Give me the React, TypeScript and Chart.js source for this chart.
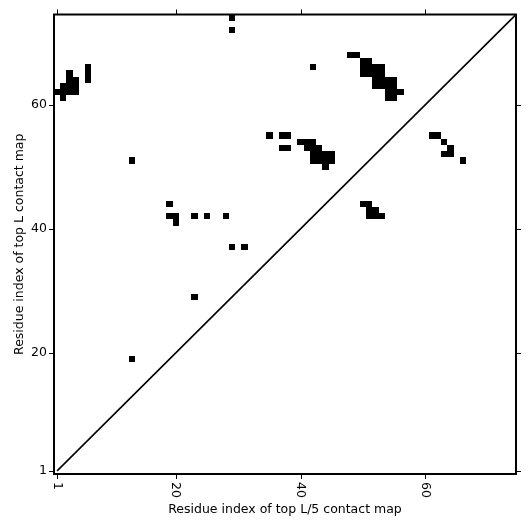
import { useEffect, useRef } from "react";
import { Chart, registerables } from "chart.js";

Chart.register(...registerables);

const AXIS_MIN = 0.5;
const AXIS_MAX = 74.5;
const tickValues = [1, 20, 40, 60];
const tickLabels = ["1", "20", "40", "60"];
const xTitle = "Residue index of top L/5 contact map";
const yTitle = "Residue index of top L contact map";

// contact cells (residue i, residue j)
const contactX = [
  1, 2, 2, 2, 3, 3, 3, 3, 4, 4, 4, 6, 6, 6,
  13, 13,
  19, 19, 20, 20, 23, 25, 28, 29, 31, 23,
  29, 29,
  35, 37, 38, 37, 38,
  40, 41, 42, 41, 42, 43, 42, 43, 44, 45, 42, 43, 44, 45, 44,
  42, 48, 49,
  50, 51, 50, 51, 52, 53, 50, 51, 52, 53, 52, 53, 52, 53, 54, 55, 54, 55, 54, 55, 54, 55, 56,
  50, 51, 51, 52, 51, 52, 53,
  61, 62, 63, 64, 64, 63, 66,
];
const contactY = [
  62, 62, 61, 63, 65, 64, 63, 62, 64, 63, 62, 66, 65, 64,
  51, 19,
  44, 42, 42, 41, 42, 42, 42, 37, 37, 29,
  74, 72,
  55, 55, 55, 53, 53,
  54, 54, 54, 53, 53, 53, 52, 52, 52, 52, 51, 51, 51, 51, 50,
  66, 68, 68,
  67, 67, 66, 66, 66, 66, 65, 65, 65, 65, 64, 64, 63, 63, 64, 64, 63, 63, 62, 62, 61, 61, 62,
  44, 44, 43, 43, 42, 42, 42,
  55, 55, 54, 53, 52, 52, 51,
];
const diagonalX = [1, 74.5];
const diagonalY = [1, 74.5];

const FONT = '"DejaVu Sans", sans-serif';

// draws each contact as a cell spanning value-0.5..value+0.5 on both scales
const cellPlugin = {
  id: "cells",
  beforeDatasetsDraw(chart: any) {
    const { ctx, scales } = chart;
    const x = scales.x;
    const y = scales.y;
    const pts = chart.data.datasets[0].data as { x: number; y: number }[];
    ctx.save();
    ctx.fillStyle = "#000";
    pts.forEach((p) => {
      const l = Math.round(x.getPixelForValue(p.x - 0.5));
      const r = Math.round(x.getPixelForValue(p.x + 0.5));
      const t = Math.round(y.getPixelForValue(p.y + 0.5));
      const b = Math.round(y.getPixelForValue(p.y - 0.5));
      ctx.fillRect(l, t, r - l, b - t);
    });
    ctx.restore();
  },
};

const framePlugin = {
  id: "frameTicks",
  afterDraw(chart: any) {
    const { ctx, chartArea: a, scales } = chart;
    const x = scales.x;
    const y = scales.y;
    ctx.save();
    ctx.strokeStyle = "#000";
    ctx.lineWidth = 2;
    ctx.strokeRect(a.left, a.top, a.right - a.left, a.bottom - a.top);
    ctx.lineWidth = 1;
    const tl = 5;
    tickValues.forEach((v) => {
      const px = Math.round(x.getPixelForValue(v)) + 0.5;
      const py = Math.round(y.getPixelForValue(v)) + 0.5;
      ctx.beginPath();
      ctx.moveTo(px, a.bottom);
      ctx.lineTo(px, a.bottom + tl);
      ctx.moveTo(px, a.top);
      ctx.lineTo(px, a.top - tl);
      ctx.moveTo(a.left, py);
      ctx.lineTo(a.left - tl, py);
      ctx.moveTo(a.right, py);
      ctx.lineTo(a.right + tl, py);
      ctx.stroke();
    });
    ctx.fillStyle = "#000";
    ctx.font = "12.5px " + FONT;
    ctx.textAlign = "left";
    ctx.textBaseline = "middle";
    tickValues.forEach((v, i) => {
      const px = x.getPixelForValue(v);
      ctx.save();
      ctx.translate(px, a.bottom + 8);
      ctx.rotate(Math.PI / 2);
      ctx.fillText(tickLabels[i], 0, 0);
      ctx.restore();
    });
    ctx.restore();
  },
};

export default function App() {
  const ref = useRef<HTMLCanvasElement | null>(null);
  useEffect(() => {
    if (!ref.current) return;
    const cells = contactX.map((cx, i) => ({ x: cx, y: contactY[i] }));
    const diag = diagonalX.map((dx, i) => ({ x: dx, y: diagonalY[i] }));
    const chart = new Chart(ref.current, {
      type: "scatter",
      data: {
        datasets: [
          {
            data: cells,
            pointStyle: "rect",
            backgroundColor: "#000",
            borderWidth: 0,
            pointRadius: 0,
            pointHoverRadius: 0,
          } as any,
          {
            type: "line",
            data: diag,
            showLine: true,
            borderColor: "#000",
            borderWidth: 1.6,
            pointRadius: 0,
            fill: false,
          } as any,
        ],
      },
      options: {
        animation: false,
        responsive: false,
        events: [],
        layout: { padding: { left: 0, right: 15, top: 14, bottom: 0 } },
        plugins: { legend: { display: false }, tooltip: { enabled: false } },
        scales: {
          x: {
            type: "linear",
            min: AXIS_MIN,
            max: AXIS_MAX,
            afterBuildTicks: (s: any) => {
              s.ticks = tickValues.map((v) => ({ value: v }));
            },
            afterFit: (s: any) => {
              s.height = 57;
            },
            ticks: { display: false },
            grid: { display: false, drawTicks: false },
            border: { display: false },
            title: {
              display: true,
              text: xTitle,
              color: "#000",
              font: { family: FONT, size: 12.5 },
              padding: { top: 0, bottom: 14 },
            },
          },
          y: {
            type: "linear",
            min: AXIS_MIN,
            max: AXIS_MAX,
            afterBuildTicks: (s: any) => {
              s.ticks = tickValues.map((v) => ({ value: v }));
            },
            afterFit: (s: any) => {
              s.width = 54;
            },
            ticks: {
              color: "#000",
              font: { family: FONT, size: 12.5 },
              padding: 7,
              callback: (v: any) => String(v),
            },
            grid: { display: false, drawTicks: false },
            border: { display: false },
            title: {
              display: true,
              text: yTitle,
              color: "#000",
              font: { family: FONT, size: 12.5 },
              padding: { top: 12, bottom: 0 },
            },
          },
        },
      } as any,
      plugins: [cellPlugin, framePlugin],
    });
    return () => chart.destroy();
  }, []);
  return (
    <div style={{ position: "absolute", left: 0, top: 0, width: 531, height: 531 }}>
      <canvas ref={ref} width={531} height={531} style={{ display: "block" }} />
    </div>
  );
}
